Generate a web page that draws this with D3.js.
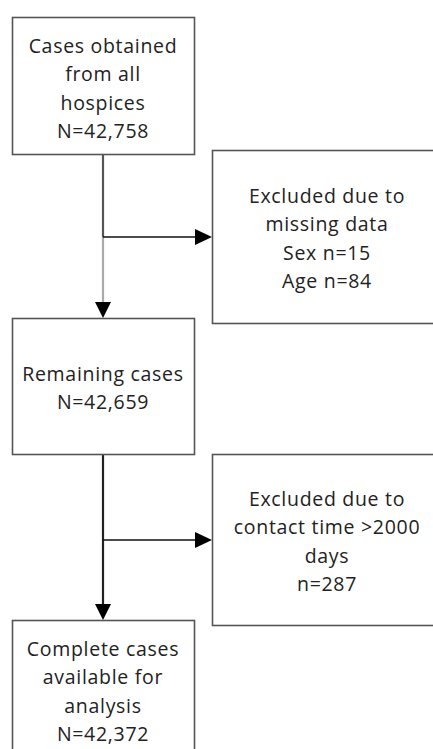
<!DOCTYPE html>
<html><head><meta charset="utf-8">
<script src="https://cdn.jsdelivr.net/npm/d3@7"></script>
<style>html,body{margin:0;padding:0;background:#fff;overflow:hidden}</style>
</head><body>
<svg id="c" width="433" height="749"></svg>
<script>
const mainSteps = [
  ["Cases obtained", "from all", "hospices", "N=42,758"],
  ["Remaining cases", "N=42,659"],
  ["Complete cases", "available for", "analysis", "N=42,372"]
];
const exclusions = [
  ["Excluded due to", "missing data", "Sex n=15", "Age n=84"],
  ["Excluded due to", "contact time >2000", "days", "n=287"]
];

// layout
const mainBoxes = [{x:12,y:17,w:182,h:137},{x:12,y:318,w:182,h:136},{x:12,y:620,w:182,h:140}];
const exBoxes = [{x:212,y:150,w:230,h:173},{x:212,y:454,w:230,h:171}];
const branchY = [237, 540];
const mainTextY = [45, 373, 648];
const exTextY = [195, 498];
const lh = 28.5;
const cx = 103;

const svg = d3.select("#c");
const font = "'Open Sans', sans-serif";

function box(b){
  svg.append("rect").attr("x",b.x+0.5).attr("y",b.y+0.5).attr("width",b.w).attr("height",b.h)
    .attr("fill","#fff").attr("stroke","#555").attr("stroke-width",1.6);
}
function text(lines, x, y0){
  const t = svg.append("text").attr("font-family",font).attr("font-size",19.5).attr("fill","#222")
    .attr("letter-spacing",0.7).attr("text-anchor","middle");
  lines.forEach((l,i)=>{
    t.append("tspan").attr("x",x).attr("y",y0+i*lh).attr("dominant-baseline","central").text(l);
  });
}
function arrowDown(x, tipY){
  svg.append("path").attr("d",`M${x-8},${tipY-16}L${x+8},${tipY-16}L${x},${tipY}Z`).attr("fill","#000");
}
function arrowRight(tipX, y){
  svg.append("path").attr("d",`M${tipX-17},${y-8}L${tipX-17},${y+8}L${tipX},${y}Z`).attr("fill","#000");
}

// connectors
const lineCols = [["#555","#aaa"],["#222","#222"]];
for (let i=0;i<2;i++){
  const a = mainBoxes[i], b = mainBoxes[i+1], e = exBoxes[i], by = branchY[i];
  svg.append("line").attr("x1",cx).attr("x2",cx).attr("y1",a.y+a.h).attr("y2",by)
    .attr("stroke",lineCols[i][0]).attr("stroke-width",2.2);
  svg.append("line").attr("x1",cx).attr("x2",cx).attr("y1",by).attr("y2",b.y-10)
    .attr("stroke",lineCols[i][1]).attr("stroke-width",2.2);
  svg.append("line").attr("x1",cx).attr("x2",e.x-10).attr("y1",by).attr("y2",by)
    .attr("stroke","#111").attr("stroke-width",1.6);
  arrowDown(cx, b.y);
  arrowRight(e.x, by);
}

mainBoxes.forEach((b,i)=>{ box(b); text(mainSteps[i], b.x+b.w/2, mainTextY[i]); });
exBoxes.forEach((b,i)=>{ box(b); text(exclusions[i], 327, exTextY[i]); });
</script>
</body></html>
